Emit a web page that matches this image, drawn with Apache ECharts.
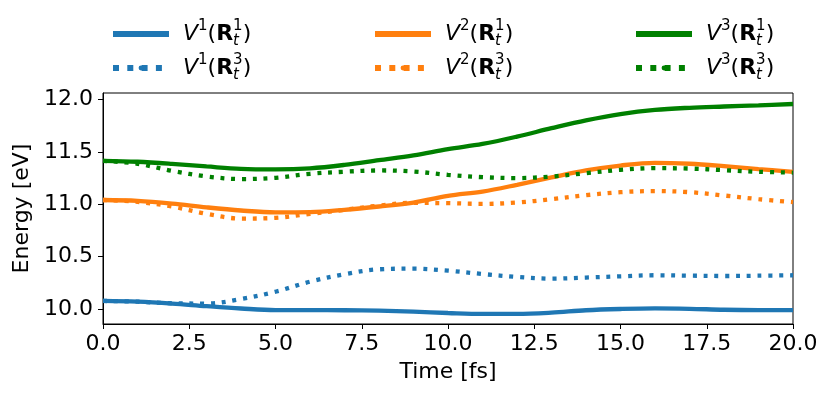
<!DOCTYPE html>
<html>
<head>
<meta charset="utf-8">
<script src="https://cdn.jsdelivr.net/npm/echarts@6/dist/echarts.min.js"></script>
<style>
  html, body { margin: 0; padding: 0; background: #fff; }
  #chart { width: 830px; height: 397px; }
</style>
</head>
<body>
<div id="chart"></div>
<script>
// ---- data ----
const times = [0,1,2,3,4,5,6,7,8,9,10,11,12,13,14,15,16,17,18,19,20];
const v1r1 = [10.077,10.070,10.052,10.027,10.005,9.990,9.990,9.988,9.984,9.975,9.962,9.953,9.953,9.965,9.988,10.000,10.006,10.002,9.993,9.990,9.990];
const v1r3 = [10.077,10.070,10.055,10.052,10.095,10.165,10.261,10.332,10.379,10.385,10.366,10.334,10.306,10.290,10.300,10.312,10.322,10.318,10.315,10.318,10.322];
const v2r1 = [11.040,11.032,11.006,10.970,10.940,10.922,10.924,10.946,10.978,11.016,11.080,11.121,11.185,11.255,11.322,11.369,11.395,11.386,11.363,11.335,11.309];
const v2r3 = [11.040,11.022,10.978,10.908,10.863,10.870,10.908,10.946,10.987,11.013,11.010,11.003,11.016,11.048,11.086,11.115,11.125,11.115,11.083,11.048,11.020];
const v3r1 = [11.414,11.405,11.385,11.360,11.337,11.332,11.342,11.375,11.420,11.465,11.525,11.575,11.645,11.725,11.800,11.860,11.900,11.920,11.932,11.943,11.956];
const v3r3 = [11.414,11.386,11.318,11.265,11.240,11.252,11.290,11.310,11.322,11.312,11.280,11.258,11.249,11.264,11.296,11.328,11.344,11.340,11.325,11.309,11.302];
const xTicks = [0,2.5,5,7.5,10,12.5,15,17.5,20];
const yTicks = [10.0,10.5,11.0,11.5,12.0];
const seriesNames = ['V1R1','V1R3','V2R1','V2R3','V3R1','V3R3'];
const seriesData = [v1r1, v1r3, v2r1, v2r3, v3r1, v3r3];
const colors = ['#1f77b4','#1f77b4','#ff7f0e','#ff7f0e','#008000','#008000'];
const dotted = [false,true,false,true,false,true];

const FONT = 'DejaVu Sans';
const FS = 22;
const dotDash = [4, 6.8];

function pairs(arr) { return times.map((t, i) => [t, arr[i]]); }

function legendLabel(name) {
  const a = name.charAt(1), c = name.charAt(3);
  return '{sp| }{it|V}{sup|' + a + '}{n|(}{b|R}{sub0|t}{sup|' + c + '}{n|)}';
}

const rich = {
  sp:   { width: 9, fontSize: FS, lineHeight: 30, fontFamily: FONT },
  it:   { fontStyle: 'italic', fontSize: FS, lineHeight: 30, fontFamily: FONT, color: '#000' },
  n:    { fontSize: FS, lineHeight: 30, fontFamily: FONT, color: '#000' },
  b:    { fontWeight: 'bold', fontSize: FS, lineHeight: 30, fontFamily: FONT, color: '#000' },
  sup:  { fontSize: 15, lineHeight: 20, verticalAlign: 'top', fontFamily: FONT, color: '#000' },
  sub0: { fontSize: 15, lineHeight: 13, width: 0, verticalAlign: 'bottom', fontStyle: 'italic', fontFamily: FONT, color: '#000' }
};

const legendCols = [[0,1],[2,3],[4,5]];
const legendLeft = [110, 372, 633];

const option = {
  animation: false,
  backgroundColor: '#fff',
  grid: { left: 103, right: 37, top: 93, bottom: 73, show: true, borderColor: '#000', borderWidth: 1, backgroundColor: 'transparent' },
  legend: legendCols.map((col, k) => ({
    left: legendLeft[k],
    top: 19,
    orient: 'vertical',
    itemWidth: 56,
    itemHeight: 6,
    itemGap: 4,
    padding: 0,
    data: col.map(i => ({
      name: seriesNames[i],
      lineStyle: { width: 6, type: dotted[i] ? [6, 8.3] : 'solid', cap: 'butt' }
    })),
    formatter: legendLabel,
    textStyle: { fontFamily: FONT, fontSize: FS, color: '#000', rich: rich }
  })),
  xAxis: {
    type: 'value', min: 0, max: 20, interval: 2.5,
    name: 'Time [fs]', nameLocation: 'middle', nameGap: 37,
    nameTextStyle: { fontFamily: FONT, fontSize: FS, color: '#000' },
    axisLine: { show: true, lineStyle: { color: '#000', width: 1 } },
    axisTick: { show: true, inside: false, length: 5, lineStyle: { color: '#000', width: 1 } },
    axisLabel: { margin: 9, fontFamily: FONT, fontSize: FS, color: '#000',
      formatter: v => v.toFixed(1), customValues: xTicks },
    splitLine: { show: false }
  },
  yAxis: {
    type: 'value', min: 9.857, max: 12.061,
    name: 'Energy [eV]', nameLocation: 'middle', nameGap: 68,
    nameTextStyle: { fontFamily: FONT, fontSize: FS, color: '#000' },
    axisLine: { show: true, lineStyle: { color: '#000', width: 1 } },
    axisTick: { show: true, inside: false, length: 5, lineStyle: { color: '#000', width: 1 }, customValues: yTicks },
    axisLabel: { margin: 10, fontFamily: FONT, fontSize: FS, color: '#000',
      formatter: v => v.toFixed(1), customValues: yTicks },
    splitLine: { show: false }
  },
  series: seriesNames.map((nm, i) => ({
    name: nm,
    type: 'line',
    data: pairs(seriesData[i]),
    smooth: 0.35,
    symbol: 'none',
    showSymbol: false,
    color: colors[i],
    lineStyle: { color: colors[i], width: 4.3, type: dotted[i] ? dotDash : 'solid', cap: 'butt' }
  }))
};

const chart = echarts.init(document.getElementById('chart'), null, { renderer: 'canvas' });
chart.setOption(option);
</script>
</body>
</html>
